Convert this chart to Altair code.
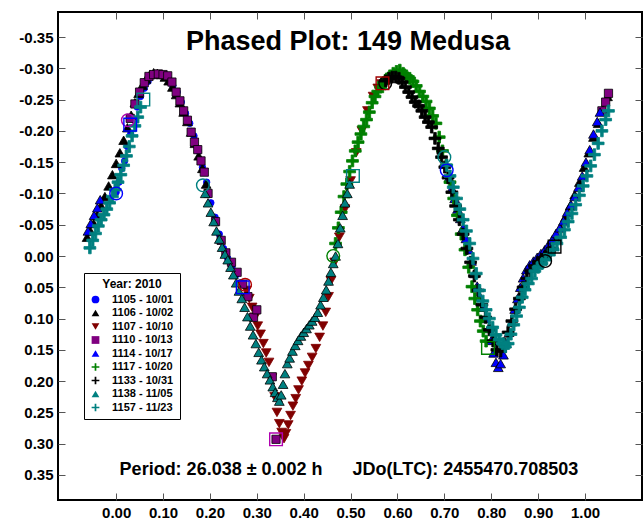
import altair as alt
import pandas as pd

# ---------------- data ----------------
sessions = ["1105 - 10/01", "1106 - 10/02", "1107 - 10/10", "1110 - 10/13", "1114 - 10/17",
            "1117 - 10/20", "1133 - 10/31", "1138 - 11/05", "1157 - 11/23"]

ph_1105 = [0.000, 0.006, 0.012, 0.018, 0.024, 0.031, 0.038, 0.045, 0.052, 0.060, 0.068, 0.076, 0.085,
           0.094, 0.103, 0.112, 0.121, 0.130, 0.139, 0.148, 0.157, 0.166, 0.175, 0.184, 0.193, 0.202,
           0.211, 0.220, 0.229, 0.238, 0.247, 0.256, 0.265]
mg_1105 = [-0.102, -0.118, -0.140, -0.152, -0.175, -0.195, -0.218, -0.238, -0.255, -0.268, -0.279, -0.288,
           -0.291, -0.290, -0.288, -0.283, -0.272, -0.262, -0.246, -0.228, -0.212, -0.192, -0.168, -0.142,
           -0.118, -0.085, -0.062, -0.035, -0.012, 0.004, 0.018, 0.030, 0.043]

ph_1106 = [0.918, 0.928, 0.938, 0.948, 0.958, 0.968, 0.978, 0.988, 0.998, 1.008, 1.018, 1.028, 1.038, 1.048,
           -0.062, -0.055, -0.048, -0.040, -0.032, -0.024, -0.016, -0.008, 0.000, 0.008, 0.016, 0.024,
           0.032, 0.040, 0.048, 0.056, 0.064, 0.072, 0.080, 0.088, 0.096, 0.104, 0.112, 0.120, 0.128,
           0.136, 0.144, 0.152, 0.160, 0.168, 0.176, 0.184, 0.192]
mg_1106 = [-0.002, -0.015, -0.030, -0.045, -0.062, -0.080, -0.098, -0.118, -0.142, -0.165, -0.190, -0.212,
           -0.235, -0.255,
           -0.030, -0.040, -0.052, -0.065, -0.080, -0.095, -0.112, -0.130, -0.148, -0.165, -0.185, -0.205,
           -0.225, -0.245, -0.260, -0.273, -0.283, -0.290, -0.293, -0.292, -0.290, -0.286, -0.280, -0.270,
           -0.258, -0.245, -0.230, -0.215, -0.198, -0.180, -0.160, -0.140, -0.115]

ph_1107 = [0.278, 0.284, 0.290, 0.296, 0.302, 0.308, 0.314, 0.320, 0.326, 0.332, 0.338, 0.343, 0.348, 0.353,
           0.358, 0.362, 0.367, 0.372, 0.377, 0.383, 0.389, 0.396, 0.403, 0.410, 0.418, 0.426, 0.434, 0.441,
           0.447, 0.453, 0.458, 0.466, 0.476, 0.488, 0.500, 0.512, 0.524, 0.536, 0.548, 0.558, 0.566]
mg_1107 = [0.055, 0.068, 0.082, 0.098, 0.112, 0.125, 0.140, 0.155, 0.170, 0.195, 0.225, 0.250, 0.268, 0.282,
           0.292, 0.284, 0.270, 0.255, 0.240, 0.228, 0.214, 0.200, 0.187, 0.175, 0.162, 0.148, 0.130, 0.112,
           0.090, 0.065, 0.040, 0.010, -0.030, -0.075, -0.120, -0.165, -0.200, -0.232, -0.255, -0.268, -0.275]

ph_1110 = [1.036, 1.044, 1.050, 0.030, 0.040, 0.050, 0.060, 0.070, 0.080, 0.090, 0.100, 0.110, 0.119, 0.128,
           0.136, 0.144, 0.152, 0.160, 0.167, 0.174, 0.181, 0.188, 0.196, 0.212, 0.224, 0.234, 0.246, 0.258,
           0.270, 0.281, 0.293, 0.300, 0.333, 0.341]
mg_1110 = [-0.232, -0.246, -0.260, -0.220, -0.243, -0.262, -0.277, -0.287, -0.290, -0.291, -0.290, -0.288,
           -0.278, -0.262, -0.248, -0.232, -0.217, -0.198, -0.182, -0.170, -0.152, -0.134, -0.100, -0.055,
           -0.025, -0.005, 0.010, 0.026, 0.045, 0.065, 0.098, 0.086, 0.193, 0.293]

ph_1114 = [0.710, 0.716, 0.722, 0.728, 0.734, 0.740, 0.746, 0.752, 0.758, 0.764, 0.770, 0.776, 0.782, 0.788,
           0.794, 0.800, 0.805, 0.810, 0.815, 0.820, 0.826, 0.832, 0.838, 0.844, 0.850, 0.856, 0.862, 0.868,
           0.875, 0.882, 0.890, 0.898, 0.906, 0.914, 0.922, 0.930, 0.938, 0.946, 0.954, 0.962, 0.970, 0.978,
           0.986, 0.994, 1.002, 1.010, 1.018, 1.026, 1.032, -0.060, -0.054, -0.047, -0.040, -0.034]
mg_1114 = [-0.125, -0.108, -0.092, -0.075, -0.060, -0.045, -0.028, -0.010, 0.008, 0.028, 0.048, 0.065, 0.082,
           0.100, 0.116, 0.135, 0.155, 0.170, 0.178, 0.172, 0.158, 0.140, 0.122, 0.105, 0.085, 0.068, 0.050,
           0.035, 0.022, 0.014, 0.008, 0.002, -0.004, -0.010, -0.018, -0.026, -0.036, -0.045, -0.056, -0.070,
           -0.082, -0.095, -0.110, -0.128, -0.150, -0.170, -0.195, -0.215, -0.230,
           -0.040, -0.052, -0.065, -0.077, -0.090]

ph_1117 = [0.468, 0.474, 0.480, 0.486, 0.492, 0.498, 0.504, 0.510, 0.516, 0.522, 0.528, 0.534, 0.540, 0.546,
           0.552, 0.558, 0.564, 0.570, 0.577, 0.584, 0.591, 0.598, 0.605, 0.612, 0.619, 0.626, 0.633, 0.640,
           0.647, 0.654, 0.661, 0.668, 0.675, 0.682, 0.689, 0.696, 0.704, 0.712, 0.720, 0.728, 0.736, 0.744,
           0.752, 0.759, 0.765, 0.771, 0.777, 0.783, 0.789]
mg_1117 = [-0.020, -0.045, -0.070, -0.095, -0.115, -0.135, -0.152, -0.168, -0.182, -0.195, -0.207, -0.218,
           -0.230, -0.245, -0.255, -0.263, -0.270, -0.277, -0.283, -0.288, -0.292, -0.295, -0.297, -0.292,
           -0.288, -0.284, -0.279, -0.272, -0.263, -0.255, -0.247, -0.236, -0.224, -0.212, -0.190, -0.168,
           -0.145, -0.118, -0.092, -0.065, -0.035, -0.010, 0.018, 0.049, 0.068, 0.086, 0.104, 0.120, 0.136]

ph_1133 = [0.575, 0.582, 0.589, 0.596, 0.603, 0.610, 0.617, 0.624, 0.631, 0.638, 0.645, 0.652, 0.659, 0.666,
           0.673, 0.680, 0.687, 0.694, 0.701, 0.708, 0.716, 0.724, 0.732, 0.740, 0.748, 0.756, 0.764, 0.772,
           0.780, 0.788, 0.796, 0.804, 0.812, 0.820, 0.828, 0.836, 0.844, 0.852, 0.860, 0.868, 0.876, 0.884,
           0.892, 0.900, 0.908, 0.916, 0.924, 0.930]
mg_1133 = [-0.280, -0.284, -0.286, -0.286, -0.284, -0.278, -0.270, -0.262, -0.254, -0.246, -0.240, -0.232,
           -0.222, -0.214, -0.206, -0.188, -0.172, -0.158, -0.142, -0.125, -0.102, -0.080, -0.058, -0.035,
           -0.012, 0.010, 0.032, 0.055, 0.078, 0.098, 0.118, 0.136, 0.150, 0.152, 0.140, 0.122, 0.104, 0.085,
           0.068, 0.050, 0.036, 0.024, 0.016, 0.010, 0.005, 0.000, -0.006, -0.012]

ph_1138 = [0.190, 0.196, 0.202, 0.208, 0.214, 0.220, 0.226, 0.232, 0.238, 0.244, 0.250, 0.256, 0.262, 0.268,
           0.274, 0.280, 0.286, 0.292, 0.298, 0.304, 0.310, 0.316, 0.322, 0.328, 0.334, 0.339, 0.344, 0.348,
           0.352, 0.356, 0.360, 0.365, 0.370, 0.376, 0.382, 0.388, 0.394, 0.400, 0.406, 0.412, 0.418, 0.424,
           0.430, 0.436, 0.442, 0.448, 0.453, 0.458, 0.463, 0.468, 0.473, 0.478, 0.483, 0.488, 0.493, 0.498]
mg_1138 = [-0.100, -0.085, -0.070, -0.055, -0.040, -0.027, -0.014, -0.003, 0.006, 0.018, 0.030, 0.043, 0.056,
           0.068, 0.082, 0.097, 0.112, 0.126, 0.140, 0.154, 0.166, 0.177, 0.188, 0.198, 0.209, 0.218, 0.226,
           0.232, 0.222, 0.205, 0.188, 0.172, 0.163, 0.152, 0.143, 0.135, 0.128, 0.122, 0.116, 0.110, 0.104,
           0.098, 0.090, 0.078, 0.066, 0.054, 0.040, 0.026, 0.012, 0.000, -0.020, -0.045, -0.065, -0.085,
           -0.100, -0.115]

ph_1157 = [0.705, 0.712, 0.719, 0.726, 0.733, 0.740, 0.747, 0.754, 0.761, 0.768, 0.775, 0.782, 0.789, 0.796,
           0.803, 0.810, 0.817, 0.824, 0.830, 0.836, 0.842, 0.848, 0.854, 0.860, 0.866, 0.872, 0.879, 0.886,
           0.893, 0.900, 0.908, 0.916, 0.924, 0.932, 0.940, 0.948, 0.956, 0.964, 0.972, 0.980, 0.988, 0.996,
           1.004, 1.012, 1.020, 1.028, 1.036, 1.044, 1.050,
           -0.056, -0.050, -0.044, -0.038, -0.032, -0.026, -0.020, -0.014, -0.008, -0.002, 0.004, 0.010,
           0.016, 0.022, 0.028, 0.034, 0.040, 0.046, 0.052]
mg_1157 = [-0.145, -0.128, -0.110, -0.092, -0.075, -0.058, -0.040, -0.020, 0.004, 0.028, 0.055, 0.072, 0.086,
           0.100, 0.114, 0.126, 0.134, 0.140, 0.145, 0.140, 0.125, 0.110, 0.096, 0.082, 0.066, 0.054, 0.044,
           0.036, 0.024, 0.018, 0.012, 0.006, -0.002, -0.010, -0.020, -0.030, -0.042, -0.055, -0.068, -0.082,
           -0.097, -0.112, -0.128, -0.144, -0.162, -0.180, -0.200, -0.218, -0.232,
           -0.013, -0.025, -0.036, -0.048, -0.058, -0.066, -0.075, -0.085, -0.095, -0.106, -0.118, -0.130,
           -0.145, -0.160, -0.175, -0.192, -0.208, -0.222, -0.238]

# first (circle) and last (square) observation markers of sessions
circ_phase = [0.000, 0.915, 0.275, 0.025, 0.705, 0.463, 0.574, 0.185, 0.700]
circ_mag = [-0.100, 0.008, 0.046, -0.217, -0.137, 0.000, -0.276, -0.113, -0.158]
circ_color = ["#0000FF", "#000000", "#B00000", "#B000B0", "#0000FF", "#008000", "#000000", "#008080", "#008080"]
sq_phase = [0.270, 0.568, 0.341, 0.030, 0.793, 0.935, 0.505, 0.058]
sq_mag = [0.050, -0.276, 0.293, -0.210, 0.147, -0.015, -0.128, -0.250]
sq_color = ["#0000FF", "#A00000", "#B000B0", "#0000FF", "#008000", "#000000", "#008080", "#008080"]

x_ticks = [0.0, 0.1, 0.2, 0.3, 0.4, 0.5, 0.6, 0.7, 0.8, 0.9, 1.0]
y_ticks = [-0.35, -0.30, -0.25, -0.20, -0.15, -0.10, -0.05, 0.0, 0.05, 0.10, 0.15, 0.20, 0.25, 0.30, 0.35]

title_text = "Phased Plot: 149 Medusa"
period_text = "Period: 26.038 ± 0.002 h" + "\u00a0" * 6 + "JDo(LTC): 2455470.708503"

# ---------------- styles ----------------
PLUS = "M-1,-0.22H1V0.22H-1Z M-0.22,-1H0.22V1H-0.22Z"
fill_colors = ["#0000FF", "#000000", "#800000", "#800080", "#0000FF", "#008000", "#000000", "#008080", "#008080"]
edge_colors = ["#0000FF", "#000000", "#800000", "#000000", "#000000", "#008000", "#000000", "#000000", "#008080"]
shapes = ["circle", "triangle-up", "triangle-down", "square", "triangle-up", PLUS, PLUS, "triangle-up", PLUS]
sizes = [42, 95, 95, 68, 95, 140, 140, 95, 140]

series = [(ph_1105, mg_1105), (ph_1106, mg_1106), (ph_1107, mg_1107), (ph_1110, mg_1110), (ph_1114, mg_1114),
          (ph_1117, mg_1117), (ph_1133, mg_1133), (ph_1138, mg_1138), (ph_1157, mg_1157)]
rows = []
for i, (name, (ph, mg)) in enumerate(zip(sessions, series)):
    for p, m in zip(ph, mg):
        rows.append({"phase": p, "mag": m, "session": name, "edge": edge_colors[i], "sz": sizes[i]})
df = pd.DataFrame(rows)
circles = pd.DataFrame({"phase": circ_phase, "mag": circ_mag, "ring": circ_color})
squares = pd.DataFrame({"phase": sq_phase, "mag": sq_mag, "ring": sq_color})

FONT = "Liberation Sans"
x_scale = alt.Scale(domain=[-0.124, 1.1215], nice=False, zero=False)
y_scale = alt.Scale(domain=[-0.39, 0.39], nice=False, zero=False, reverse=True)
ylabel = "(datum.value < 0 ? '-' : '') + format(abs(datum.value), '.2f')"

common_axis = dict(domain=False, grid=False, tickSize=7, offset=-7, tickColor="#555555", tickWidth=1,
                   labelFont=FONT, labelFontWeight="bold", labelFontSize=15, labelColor="black", title=None)

legend = alt.Legend(title="Year: 2010", orient="none", legendX=26, legendY=261, direction="vertical",
                    titleFont=FONT, titleFontSize=12, titleFontWeight="bold", titleColor="black",
                    titleAnchor="middle", titlePadding=3,
                    labelFont=FONT, labelFontSize=11, labelFontWeight="bold", labelColor="black",
                    strokeColor="black", fillColor="white", padding=6, rowPadding=1.5,
                    symbolSize=60, symbolStrokeWidth=0, labelOffset=11)

points = alt.Chart(df).mark_point(filled=True, opacity=1, strokeWidth=0.8).encode(
    x=alt.X("phase:Q", scale=x_scale,
            axis=alt.Axis(orient="bottom", values=x_ticks, format=".2f", labelPadding=5, **common_axis)),
    y=alt.Y("mag:Q", scale=y_scale,
            axis=alt.Axis(orient="left", values=y_ticks, labelExpr=ylabel, labelPadding=5, **common_axis)),
    fill=alt.Fill("session:N", title="Year: 2010",
                  scale=alt.Scale(domain=sessions, range=fill_colors), legend=legend),
    shape=alt.Shape("session:N", title="Year: 2010",
                    scale=alt.Scale(domain=sessions, range=shapes), legend=legend),
    stroke=alt.Stroke("edge:N", scale=None),
    size=alt.Size("sz:Q", scale=None),
)

circle_layer = alt.Chart(circles).mark_point(filled=False, shape="circle", opacity=1, strokeWidth=1.4,
                                             size=160).encode(
    x=alt.X("phase:Q", scale=x_scale,
            axis=alt.Axis(orient="top", values=x_ticks, labels=False, **common_axis)),
    y=alt.Y("mag:Q", scale=y_scale,
            axis=alt.Axis(orient="right", values=y_ticks, labels=False, **common_axis)),
    stroke=alt.Stroke("ring:N", scale=None),
)

square_layer = alt.Chart(squares).mark_point(filled=False, shape="square", opacity=1, strokeWidth=1.4,
                                             size=160).encode(
    x=alt.X("phase:Q", scale=x_scale, axis=None),
    y=alt.Y("mag:Q", scale=y_scale, axis=None),
    stroke=alt.Stroke("ring:N", scale=None),
)

title_layer = alt.Chart(pd.DataFrame({"t": [title_text]})).mark_text(
    font=FONT, fontSize=27, fontWeight="bold", color="black", align="center", baseline="middle"
).encode(text="t:N", x=alt.value(290), y=alt.value(30))

period_layer = alt.Chart(pd.DataFrame({"t": [period_text]})).mark_text(
    font=FONT, fontSize=18, fontWeight="bold", color="black", align="center", baseline="middle"
).encode(text="t:N", x=alt.value(291), y=alt.value(458))

chart = alt.layer(points, circle_layer, square_layer, title_layer, period_layer).resolve_axis(
    x="independent", y="independent"
).properties(
    width=584, height=488,
    padding={"left": 58, "top": 12, "right": 2, "bottom": 19},
    autosize=alt.AutoSizeParams(type="none"),
    background="white",
).configure_view(stroke="black", strokeWidth=2)

chart.save("out.html", embed_options={"renderer": "svg", "actions": False})
